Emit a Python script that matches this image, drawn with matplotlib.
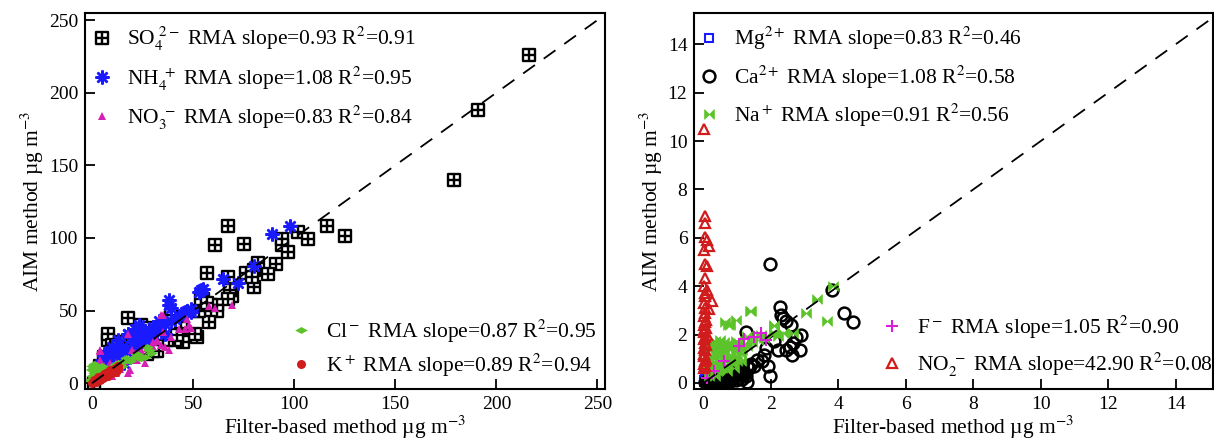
import matplotlib
matplotlib.use("Agg")
import matplotlib.pyplot as plt
from matplotlib.path import Path

plt.rcParams['font.family'] = ['Liberation Serif', 'DejaVu Serif']
plt.rcParams['mathtext.fontset'] = 'stix'

# ---- left panel data (filter-based vs AIM, ug m-3) ----
so4_x = [216, 191, 179, 116, 125, 102, 107, 94, 94, 97, 67, 75, 61, 82, 91, 87, 80, 80, 76, 79,
         67, 57, 69, 68, 67, 55, 59, 62, 53, 62, 58, 52, 51, 45, 44, 39, 41, 37, 18, 8, 8, 10,
         14, 16, 24, 26, 32, 27, 31, 21, 12, 28, 1, 35, 42, 30, 20, 4, 6, 3, 53, 54, 57]
so4_y = [226, 188, 140, 108, 101, 104, 99, 99, 95, 90, 108, 96, 95, 83, 82, 75, 78, 66, 76, 73,
         73, 76, 60, 64, 58, 58, 54, 54, 50, 50, 42, 32, 34, 28, 38, 47, 30, 30, 45, 34, 30, 26,
         28, 28, 40, 34, 22, 20, 33, 29, 25, 38, 0, 30, 33, 22, 26, 12, 18, 8, 50, 58, 55]

nh4_x = [98, 89, 80, 72, 65, 55, 53, 38, 38, 39, 47, 49, 35, 33, 30, 23, 27, 18, 20, 12, 14, 10,
         6, 6, 28, 31, 41, 36, 24, 21, 16, 54, 46, 43, 30, 23, 21, 18, 13, 10, 6, 5, 3, 33, 36,
         28, 25, 20, 15, 12, 8, 49, 39, 17, 22, 26, 32, 9, 11, 7]
nh4_y = [108, 103, 81, 69, 72, 65, 63, 57, 54, 52, 50, 49, 42, 40, 38, 38, 34, 34, 32, 25, 21, 20,
         16, 13, 30, 37, 44, 34, 31, 24, 14, 64, 49, 46, 39, 40, 37, 34, 30, 25, 20, 16, 11, 43,
         41, 33, 32, 28, 25, 20, 16, 51, 43, 22, 27, 36, 35, 22, 17, 19]

no3_x = [69, 61, 58, 35, 43, 49, 47, 32, 30, 18, 18, 19, 12, 4, 9, 16, 22, 24, 27, 39, 2, 4, 12,
         8, 14, 21, 36, 34, 32, 38, 25, 20, 4, 4, 16, 21, 13, 11, 8, 46, 48, 35, 30, 34, 6, 10, 26]
no3_y = [54, 52, 53, 47, 37, 38, 44, 29, 28, 34, 7, 9, 14, 22, 14, 15, 16, 23, 24, 32, 5, 2, 7,
         11, 10, 21, 25, 47, 30, 23, 19, 23, 23, 16, 16, 16, 11, 9, 7, 37, 40, 35, 25, 26, 12, 5, 14]

cl_x = [0, 1, 2, 3, 4, 8, 12, 16, 21, 26, 29, 23, 18, 10, 6, 1, 0, 2, 5, 7, 9, 11, 14, 19, 24, 1, 3,
        -1, 0, 0, 1, 5, 13, 17, 22, 28, 27, 15, 10, 6]
cl_y = [9, 7, 11, 8, 9, 9, 13, 15, 18, 18, 21, 17, 16, 11, 8, 2, 5, 4, 6, 10, 7, 10, 12, 15, 17, 12, 6,
        2, 10, 12, 13, 12, 14, 17, 20, 23, 25, 12, 8, 5]

k_x = [0.6, 1.5, 2.5, 3.5, 4.8, 6.3, 7.9, 9.2, 10.6, 11.7, 12.1, 5.6, 2.0, 3.0, 7.0, 8.5, 4.0, 10.0,
       1.0, 0, 1, 2, 3, 4, 5, 6, 7, 8, 9, 10, 11, 12, 13, 13, 6, 8]
k_y = [0.5, 1.1, 2.3, 2.7, 4.1, 5.0, 6.9, 8.0, 9.2, 10.3, 11.4, 3.4, 1.5, 3.5, 5.5, 7.2, 3.0, 8.8,
       0.8, 0, 2, 1, 4, 2, 5, 4, 7, 5, 9, 7, 10, 8, 10, 12, 6, 8]

# ---- right panel data ----
mg_x = [0.03, 0.1, 0.01, 0.15, 0.05, 0.08, 0.12, 0.02, 0.1, 0.15, 0.18, 0.06]
mg_y = [0.28, 0.41, 0.14, 0.07, 0.35, 0.2, 0.3, 0.05, 0.55, 0.65, 0.5, 0.45]

ca_x = [1.97, 3.8, 4.18, 4.42, 2.27, 2.3, 2.37, 2.44, 2.6, 2.9, 2.86, 2.57, 2.63, 2.45, 2.2, 2.65,
        1.26, 1.86, 1.8, 1.9, 1.97, 1.74, 1.51, 1.34, 1.17, 0.95, 0.72, 0.49, 0.26, 0.15, 0.3,
        0.45, 0.6, 0.75, 0.9, 1.05, 1.2, 0.2, 0.35, 0.5, 0.65, 0.8, 1.0, 0.4, 0.55, 0.7, 0.85,
        1.1, 1.4, 1.6, 1.3, 0.1, 0.25, 0.6, 2.1, 2.75,
        0.05, 0.15, 0.25, 0.35, 0.45, 0.55, 0.65, 0.75, 0.85, 0.95, 1.05, 1.15, 1.25, 0.5, 0.7,
        0.9, 0.3, 1.3, 0.4, 0.6]
ca_y = [4.9, 3.85, 2.9, 2.5, 3.15, 2.8, 2.7, 2.55, 2.4, 1.97, 1.34, 1.47, 1.17, 1.38, 1.38, 1.65,
        2.1, 1.45, 1.17, 0.7, 0.3, 0.9, 0.7, 0.62, 0.41, 0.28, 0.14, 0.07, 0.03, 0.05, 0.1,
        0.15, 0.2, 0.25, 0.3, 0.2, 0.35, 0.2, 0.3, 0.35, 0.1, 0.4, 0.5, 0.05, 0.25, 0.45, 0.15,
        0.6, 0.8, 0.95, 0.7, 0.02, 0.12, 0.5, 1.75, 1.9,
        0.05, 0.15, 0.25, 0.1, 0.35, 0.05, 0.3, 0.05, 0.25, 0.1, 0.45, 0.15, 0.3, 0.55, 0.65,
        0.8, 0.45, 0.05, 0.15, 0.02]

na_x = [3.85, 3.36, 3.05, 3.66, 1.42, 2.08, 0.72, 0.95, 1.29, 1.69, 2.08, 2.37, 2.65, 0.72, 0.38,
        0.15, 0.49, 1.06, 0.26, 0.6, 1.29, 1.63, 0.09, 0.38, 0.72, 0.95, 0.2, 0.5, 0.8, 1.1, 0.3,
        0.6, 0.9, 0.12, 0.45, 0.25, 0.55, 0.85, 1.0, 1.45, 1.8, 2.2, 0.65, 0.35,
        0.2, 0.3, 0.4, 0.5, 0.6, 0.7, 0.8, 0.9, 1.0, 1.1, 0.25, 0.4, 0.55, 0.7, 0.85, 0.3, 0.45,
        0.65, 0.8, 1.39, 2.08, 0.15, 0.35, 1.2, 0.95, 1.15]
na_y = [4.02, 3.47, 2.87, 2.55, 2.98, 2.34, 2.4, 2.6, 1.93, 2.0, 2.07, 2.07, 2.07, 1.52, 1.38,
        1.52, 1.79, 1.65, 1.1, 1.24, 1.52, 1.79, 0.69, 0.83, 0.96, 1.1, 1.3, 1.45, 1.35, 1.2, 1.6,
        1.7, 1.0, 1.0, 1.15, 0.8, 0.6, 0.8, 0.9, 1.7, 1.85, 1.95, 2.5, 1.75,
        0.4, 0.6, 0.5, 0.9, 0.7, 0.5, 1.1, 0.6, 1.4, 0.9, 1.5, 1.6, 1.4, 1.6, 1.45, 1.0, 1.25,
        1.05, 2.4, 2.96, 2.41, 0.3, 0.3, 1.6, 1.75, 1.35]

f_x = [1.69, 1.86, 1.06, 1.5, 0.6, 0.3, 0.1, 1.2]
f_y = [2.07, 1.79, 1.52, 1.9, 0.9, 0.5, 0.2, 1.8]

no2_x = [0.0, 0.03, 0.03, 0.03, 0.1, 0.17, 0.0, 0.03, 0.1, 0.03, 0.0, 0.1, 0.03, 0.24, 0.15, 0.03,
         0.0, 0.05, 0.02, 0.08, 0.04, 0.0, 0.06, 0.02, 0.1, 0.03, 0.0, 0.05, 0.07, 0.01, 0.04,
         0.0, 0.02, 0.06, 0.03, 0.0, 0.05, 0.01, 0.03, 0.02]
no2_y = [10.5, 6.9, 6.6, 6.05, 5.9, 5.65, 5.5, 4.9, 4.85, 4.35, 4.0, 3.85, 3.7, 3.4, 3.05, 2.9,
         3.3, 3.1, 2.75, 2.6, 2.5, 2.4, 2.25, 2.1, 2.0, 1.9, 1.8, 1.65, 1.55, 1.45, 1.35, 1.2,
         1.1, 1.0, 0.9, 0.8, 0.7, 0.6, 3.6, 2.2]

left_labels_top = [r'SO$_4^{\ 2-}$ RMA slope=0.93 R$^2$=0.91',
                   r'NH$_4^{\ +}$ RMA slope=1.08 R$^2$=0.95',
                   r'NO$_3^{\ -}$ RMA slope=0.83 R$^2$=0.84']
left_labels_bot = [r'Cl$^-$ RMA slope=0.87 R$^2$=0.95',
                   r'K$^+$ RMA slope=0.89 R$^2$=0.94']
right_labels_top = [r'Mg$^{2+}$ RMA slope=0.83 R$^2$=0.46',
                    r'Ca$^{2+}$ RMA slope=1.08 R$^2$=0.58',
                    r'Na$^+$ RMA slope=0.91 R$^2$=0.56']
right_labels_bot = [r'F$^-$ RMA slope=1.05 R$^2$=0.90',
                    r'NO$_2^{\ -}$ RMA slope=42.90 R$^2$=0.08']

# square with a cross inside, bow-tie, flat diamond
box_plus = Path([(-1, -1), (1, -1), (1, 1), (-1, 1), (-1, -1), (0, -1), (0, 1), (-1, 0), (1, 0)],
                [Path.MOVETO, Path.LINETO, Path.LINETO, Path.LINETO, Path.CLOSEPOLY,
                 Path.MOVETO, Path.LINETO, Path.MOVETO, Path.LINETO])
bowtie = Path([(-1, -1), (0, 0), (-1, 1), (-1, -1), (1, 1), (0, 0), (1, -1), (1, 1)],
              [Path.MOVETO, Path.LINETO, Path.LINETO, Path.CLOSEPOLY,
               Path.MOVETO, Path.LINETO, Path.LINETO, Path.CLOSEPOLY])
flat_diamond = Path([(-1, 0), (0, 0.55), (1, 0), (0, -0.55), (-1, 0)],
                    [Path.MOVETO, Path.LINETO, Path.LINETO, Path.LINETO, Path.CLOSEPOLY])

fig = plt.figure(figsize=(12.14, 4.42), dpi=100)
ax1 = fig.add_axes([0.070, 0.120, 0.428, 0.851])
ax2 = fig.add_axes([0.572, 0.120, 0.427, 0.851])

fs = 15.5
leg_kw = dict(frameon=False, fontsize=fs, handlelength=1.0, handletextpad=0.65,
              borderpad=0.0, borderaxespad=0.0)

def style(ax):
    for s in ax.spines.values():
        s.set_linewidth(1.5)
    ax.tick_params(direction='in', length=7, width=1.3, labelsize=14, top=False, right=False, pad=5)
    ax.set_xlabel('Filter-based method µg m$^{-3}$', fontsize=fs, labelpad=1)
    ax.set_ylabel('AIM method µg m$^{-3}$', fontsize=fs, labelpad=2)

# left panel
h1, = ax1.plot(so4_x, so4_y, ls='none', marker=box_plus, ms=8, mfc='white', mec='black', mew=1.7)
h2, = ax1.plot(nh4_x, nh4_y, ls='none', marker=(8, 2, 0), ms=10, color='#1a1aff', mew=1.8)
h3, = ax1.plot(no3_x, no3_y, ls='none', marker='^', ms=6, color='#d61fb4', mew=0)
h4, = ax1.plot(cl_x, cl_y, ls='none', marker=flat_diamond, ms=9, color='#5cc42a', mew=0)
h5, = ax1.plot(k_x, k_y, ls='none', marker='o', ms=6.5, color='#d01c1c', mew=0)
ax1.plot([0, 250], [0, 250], ls=(0, (8, 6)), color='black', lw=1.3)
ax1.set_xlim(-3.5, 253.5)
ax1.set_ylim(-4, 255)
ax1.set_xticks([0, 50, 100, 150, 200, 250])
ax1.set_yticks([0, 50, 100, 150, 200, 250])
style(ax1)
leg = ax1.legend([h1, h2, h3], left_labels_top, loc='upper left', bbox_to_anchor=(0.013, 0.967),
                 labelspacing=0.52, **leg_kw)
ax1.add_artist(leg)
ax1.legend([h4, h5], left_labels_bot, loc='lower left', bbox_to_anchor=(0.395, 0.027),
           labelspacing=0.3, **leg_kw)

# right panel
g1, = ax2.plot(mg_x, mg_y, ls='none', marker='s', ms=6, mfc='none', mec='#1a1aff', mew=1.5)
g2, = ax2.plot(ca_x, ca_y, ls='none', marker='o', ms=8.5, mfc='none', mec='black', mew=1.8)
g3, = ax2.plot(na_x, na_y, ls='none', marker=bowtie, ms=7, color='#5cc42a', mew=0.5)
g4, = ax2.plot(f_x, f_y, ls='none', marker='+', ms=9, color='#d61fd6', mew=1.5)
g5, = ax2.plot(no2_x, no2_y, ls='none', marker='^', ms=7.5, mfc='none', mec='#d01c1c', mew=1.6)
ax2.plot([0, 15], [0, 15], ls=(0, (8, 6)), color='black', lw=1.3)
ax2.set_xlim(-0.27, 15.1)
ax2.set_ylim(-0.25, 15.3)
ax2.set_xticks([0, 2, 4, 6, 8, 10, 12, 14])
ax2.set_yticks([0, 2, 4, 6, 8, 10, 12, 14])
style(ax2)
leg2 = ax2.legend([g1, g2, g3], right_labels_top, loc='upper left', bbox_to_anchor=(0.007, 0.967),
                  labelspacing=0.52, **leg_kw)
ax2.add_artist(leg2)
ax2.legend([g4, g5], right_labels_bot, loc='lower left', bbox_to_anchor=(0.36, 0.027),
           labelspacing=0.45, **leg_kw)

fig.savefig('out.png', dpi=100)
